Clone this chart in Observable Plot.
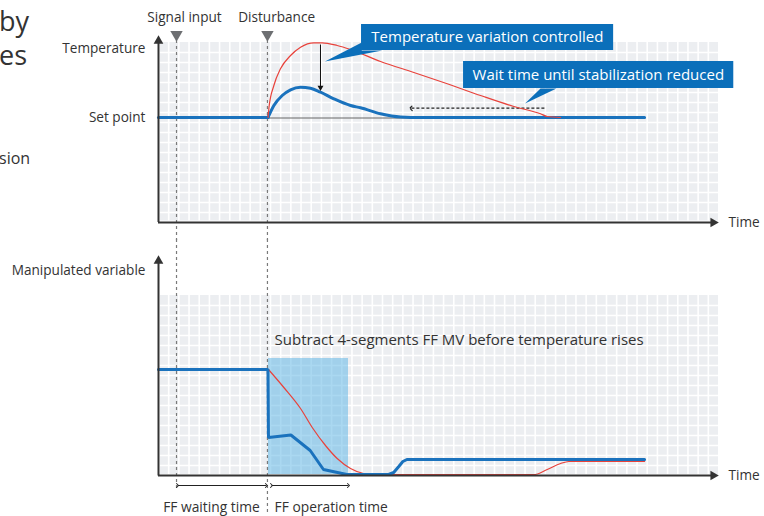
<!DOCTYPE html>
<html>
<head>
<meta charset="utf-8">
<script src="https://cdn.jsdelivr.net/npm/d3@7"></script>
<script src="https://cdn.jsdelivr.net/npm/@observablehq/plot@0.6"></script>
<style>
  html, body { margin: 0; padding: 0; background: #fff; }
  #wrap { position: relative; width: 764px; height: 516px; overflow: hidden; font-family: "Open Sans", sans-serif; color: #333; }
  #top { position: absolute; left: 0; top: 0; }
  #bottom { position: absolute; left: 0; top: 240px; }
  .frag { position: absolute; left: 0; color: #333; font-family: "Open Sans", sans-serif; white-space: nowrap; }
</style>
</head>
<body>
<div id="wrap">
  <div id="top"></div>
  <div id="bottom"></div>
  <div class="frag" style="top:2px;font-size:27px;left:-1px;">by</div>
  <div class="frag" style="top:36px;font-size:27px;left:-1px;">es</div>
  <div class="frag" style="top:147px;font-size:16px;left:-1px;">sion</div>
</div>
<script>
// ---------- data (time in grid units, values in grid units) ----------
const setPoint = 10.5;
const mvStart = 10.6;

// Temperature panel
const tempFlatT = [0, 10.76];
const tempBlueT = [10.76, 11.33, 12.15, 12.97, 13.95, 14.93, 15.91, 17.22, 18.86, 19.84, 21.81, 23.77, 25.74, 47.74];
const tempBlueV = [10.5, 11.7, 12.7, 13.27, 13.53, 13.43, 13.03, 12.37, 11.7, 11.47, 10.87, 10.55, 10.5, 10.5];
const tempRedT = [10.76, 10.85, 11.33, 11.98, 12.97, 13.95, 15.26, 16.08, 17.55, 18.86, 21.81, 25.08, 28.36, 31.63, 34.9, 37.52, 38.18, 39.49];
const tempRedV = [10.5, 11.5, 13.7, 15.37, 16.7, 17.53, 17.97, 17.97, 17.7, 17.3, 16.1, 15.0, 13.87, 12.7, 11.6, 10.87, 10.6, 10.5];

// Manipulated variable panel
const mvBlueT = [0, 10.75, 10.8, 13.0, 14.9, 16.2, 18.5, 22.6, 23.1, 23.6, 24.0, 24.4, 47.74];
const mvBlueV = [mvStart, mvStart, 3.8, 4.05, 2.5, 0.6, 0.1, 0.1, 0.3, 0.9, 1.4, 1.6, 1.6];
const mvRedT = [10.8, 12.31, 13.95, 15.1, 16.4, 17.55, 18.86, 20.14, 21.48, 36.84, 38.18, 39.49, 40.3, 47.74];
const mvRedV = [mvStart, 8.8, 6.7, 4.8, 3.0, 1.7, 0.7, 0.2, 0.08, 0.08, 0.6, 1.2, 1.4, 1.4];

const signalT = 1.77;
const disturbT = 10.7;
const ffOperationEnd = 18.66;
const ffBandTop = 11.7;

const topLabels = ["Signal input", "Disturbance"];
const topLabelT = [2.55, 11.6];
const callout1 = "Temperature variation controlled";
const callout2 = "Wait time until stabilization reduced";
const subtractText = "Subtract 4-segments FF MV before temperature rises";

// ---------- helpers ----------
const zip = (T, V) => T.map((t, i) => ({t, v: V[i]}));
const ink = "#333";
const blue = "#1a72bd";
const red = "#e8423b";
const boxBlue = "#0b6fba";
const xDomain = [0, 55];
const gridX = d3.range(1, 55);
const gridY = d3.range(1, 18);
const font = "Open Sans, sans-serif";
const labelSize = 13.6;

function gridMarks(bg) {
  return [
    Plot.rect([bg], {x1: "x1", x2: "x2", y1: "y1", y2: "y2", fill: "#eceef1"}),
    Plot.ruleX(gridX, {x: d => d, y1: bg.y1, y2: bg.y2, stroke: "#fff", strokeWidth: 1.6}),
    Plot.ruleY(gridY, {y: d => d, x1: bg.x1, x2: bg.x2, stroke: "#fff", strokeWidth: 1.6})
  ];
}

// ---------- top panel ----------
const topPlot = Plot.plot({
  width: 764, height: 240,
  marginLeft: 158, marginRight: 46, marginTop: 42, marginBottom: 18,
  x: {domain: xDomain, axis: null},
  y: {domain: [0, 18], axis: null},
  style: {fontFamily: font, color: ink, background: "transparent", overflow: "visible"},
  marks: [
    ...gridMarks({x1: 0.2, x2: 55, y1: 0.15, y2: 18}),
    // event dashed lines
    Plot.ruleX([signalT, disturbT], {x: d => d, y1: 18.2, y2: -1.8, stroke: "#7a7a7a", strokeWidth: 1.2, strokeDasharray: "3,3"}),
    // event triangles
    Plot.dot([signalT, disturbT], {x: d => d, y: 18.8, symbol: "triangle", rotate: 180, r: 4.6, fill: "#6d6f72", stroke: null}),
    Plot.text(topLabels, {x: (d, i) => topLabelT[i], y: 20.5, text: d => d, fontSize: labelSize, fill: ink}),
    // set point reference line
    Plot.ruleY([setPoint - 0.05], {x1: disturbT, x2: 37.9, stroke: "#666", strokeWidth: 1}),
    // dashed "reduced" arrow
    Plot.link([{x1: 37.9, x2: 24.8, y: 11.43}], {x1: "x1", x2: "x2", y1: "y", y2: "y", stroke: "#222", strokeWidth: 1.2, strokeDasharray: "3,2", markerEnd: "arrow"}),
    // curves
    Plot.line(zip(tempFlatT, [setPoint, setPoint]), {x: "t", y: "v", stroke: blue, strokeWidth: 3}),
    Plot.line(zip(tempBlueT, tempBlueV), {x: "t", y: "v", stroke: blue, strokeWidth: 3, curve: "monotone-x"}),
    Plot.line(zip(tempRedT, tempRedV), {x: "t", y: "v", stroke: red, strokeWidth: 1.2, curve: "monotone-x"}),
    // black arrow peak -> controlled peak
    Plot.ruleX([15.91], {x: d => d, y1: 17.75, y2: 13.6, stroke: "#111", strokeWidth: 1}),
    Plot.dot([15.91], {x: d => d, y: 13.5, symbol: "triangle", rotate: 180, r: 2.2, fill: "#111", stroke: null}),
    // axes
    Plot.ruleX([0], {x: d => d, y1: 0, y2: 18.1, stroke: ink, strokeWidth: 2}),
    Plot.ruleY([0], {y: d => d, x1: 0, x2: 54.5, stroke: ink, strokeWidth: 2}),
    Plot.dot([0], {x: d => d, y: 18.16, symbol: "triangle", r: 3.6, fill: ink, stroke: null}),
    Plot.dot([0], {x: 54.48, y: d => d, symbol: "triangle", rotate: 90, r: 3.6, fill: ink, stroke: null}),
    Plot.text(["Temperature"], {x: -1.28, y: 17.4, text: d => d, textAnchor: "end", fontSize: labelSize, fill: ink}),
    Plot.text(["Set point"], {x: -1.28, y: setPoint, text: d => d, textAnchor: "end", fontSize: labelSize, fill: ink}),
    Plot.text(["Time"], {x: 55.98, y: 0, text: d => d, textAnchor: "start", fontSize: labelSize, fill: ink}),
    // callout 1
    Plot.line([{t: 19.96, v: 18.0}, {t: 19.96, v: 17.2}, {t: 21.97, v: 17.2}, {t: 16.35, v: 16.1}], {x: "t", y: "v", fill: boxBlue, stroke: null}),
    Plot.rect([{x1: 19.94, x2: 44.7, y1: 17.2, y2: 19.8}], {x1: "x1", x2: "x2", y1: "y1", y2: "y2", fill: boxBlue}),
    Plot.text([callout1], {x: 32.3, y: 18.5, text: d => d, fontSize: 15, fill: "#fff"}),
    // callout 2
    Plot.line([{t: 37.52, v: 13.4}, {t: 39.09, v: 13.4}, {t: 36.0, v: 11.9}], {x: "t", y: "v", fill: boxBlue, stroke: null}),
    Plot.rect([{x1: 29.96, x2: 56.5, y1: 13.4, y2: 16.1}], {x1: "x1", x2: "x2", y1: "y1", y2: "y2", fill: boxBlue}),
    Plot.text([callout2], {x: 43.2, y: 14.75, text: d => d, fontSize: 15, fill: "#fff"})
  ]
});
document.getElementById("top").appendChild(topPlot);

// ---------- bottom panel ----------
const bottomPlot = Plot.plot({
  width: 764, height: 276,
  marginLeft: 158, marginRight: 46, marginTop: 55, marginBottom: 41,
  x: {domain: xDomain, axis: null},
  y: {domain: [0, 18], axis: null},
  style: {fontFamily: font, color: ink, background: "transparent", overflow: "visible"},
  marks: [
    ...gridMarks({x1: 0.2, x2: 55, y1: 0.1, y2: 18}),
    Plot.rect([{x1: disturbT + 0.1, x2: ffOperationEnd, y1: 0.1, y2: ffBandTop}], {x1: "x1", x2: "x2", y1: "y1", y2: "y2", fill: "#64b8e6", fillOpacity: 0.55}),
    Plot.ruleX([signalT], {x: d => d, y1: 23.6, y2: -1.5, stroke: "#7a7a7a", strokeWidth: 1.2, strokeDasharray: "3,3"}),
    Plot.ruleX([disturbT], {x: d => d, y1: 23.6, y2: -3.8, stroke: "#7a7a7a", strokeWidth: 1.2, strokeDasharray: "3,3"}),
    Plot.text([subtractText], {x: 11.4, y: 13.5, text: d => d, textAnchor: "start", fontSize: 15, fill: ink}),
    Plot.line(zip(mvRedT, mvRedV), {x: "t", y: "v", stroke: red, strokeWidth: 1.2, curve: "monotone-x"}),
    Plot.line(zip(mvBlueT, mvBlueV), {x: "t", y: "v", stroke: blue, strokeWidth: 3, strokeLinejoin: "miter"}),
    // axes
    Plot.ruleX([0], {x: d => d, y1: -0.05, y2: 21.3, stroke: ink, strokeWidth: 2}),
    Plot.ruleY([0], {y: d => d, x1: 0, x2: 54.5, stroke: ink, strokeWidth: 2}),
    Plot.dot([0], {x: d => d, y: 21.46, symbol: "triangle", r: 3.6, fill: ink, stroke: null}),
    Plot.dot([0], {x: 54.48, y: d => d, symbol: "triangle", rotate: 90, r: 3.6, fill: ink, stroke: null}),
    Plot.text(["Manipulated variable"], {x: -1.28, y: 20.5, text: d => d, textAnchor: "end", fontSize: labelSize, fill: ink}),
    Plot.text(["Time"], {x: 55.98, y: 0, text: d => d, textAnchor: "start", fontSize: labelSize, fill: ink}),
    // FF time arrows
    Plot.link([{x1: signalT + 0.1, x2: disturbT - 0.1}, {x1: disturbT + 0.4, x2: ffOperationEnd}], {x1: "x1", x2: "x2", y1: -1, y2: -1, stroke: "#222", strokeWidth: 1, markerStart: "arrow", markerEnd: "arrow"}),
    Plot.text(["FF waiting time"], {x: 5.2, y: -3.2, text: d => d, fontSize: 13.8, fill: ink}),
    Plot.text(["FF operation time"], {x: 11.4, y: -3.2, text: d => d, textAnchor: "start", fontSize: 13.8, fill: ink})
  ]
});
document.getElementById("bottom").appendChild(bottomPlot);
</script>
</body>
</html>
